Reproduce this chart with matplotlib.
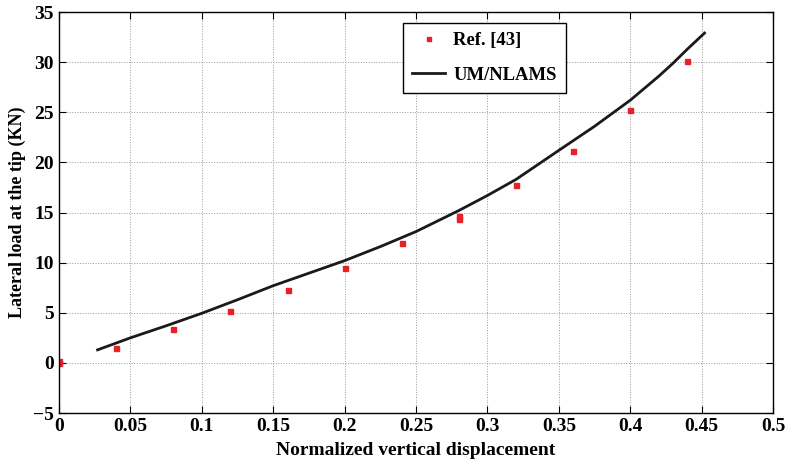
import numpy as np
import matplotlib
matplotlib.use("Agg")
import matplotlib.pyplot as plt

plt.rcParams['font.family'] = ['Liberation Serif', 'DejaVu Serif']
plt.rcParams['font.weight'] = 'bold'

# reference data points
ref_x = [0.0, 0.0, 0.04, 0.08, 0.12, 0.16, 0.20, 0.24, 0.28, 0.28, 0.32, 0.36, 0.40, 0.44]
ref_y = [0.0, 0.2, 1.5, 3.4, 5.2, 7.3, 9.5, 12.0, 14.4, 14.7, 17.7, 21.1, 25.2, 30.1]

# UM/NLAMS prediction
um_x = [0.027, 0.05, 0.075, 0.10, 0.125, 0.15, 0.175, 0.20, 0.225, 0.25, 0.28,
        0.30, 0.32, 0.35, 0.375, 0.40, 0.41, 0.42, 0.43, 0.44, 0.452]
um_y = [1.3, 2.5, 3.7, 4.95, 6.3, 7.7, 8.95, 10.2, 11.6, 13.1, 15.2,
        16.7, 18.3, 21.2, 23.6, 26.2, 27.4, 28.6, 29.9, 31.3, 32.9]

fig = plt.figure(figsize=(7.89, 4.66), dpi=100)
ax = fig.add_axes([0.0748, 0.1137, 0.905, 0.8605])

ax.plot(ref_x, ref_y, 's', color='#e8202a', ms=3.6, mec='#e8202a', label='Ref. [43]')
ax.plot(um_x, um_y, '-', color='#1a1a1a', lw=2.0, label='UM/NLAMS')

ax.set_xlim(0, 0.5)
ax.set_ylim(-5, 35)
ax.set_xticks(np.arange(0, 0.51, 0.05))
ax.set_xticklabels(['0', '0.05', '0.1', '0.15', '0.2', '0.25', '0.3', '0.35', '0.4', '0.45', '0.5'])
ax.set_yticks(np.arange(-5, 36, 5))
ax.set_yticklabels(['\u22125'] + [str(v) for v in range(0, 36, 5)])
ax.tick_params(direction='in', top=True, right=True, labelsize=14, length=5, width=0.8)
for lab in ax.get_xticklabels() + ax.get_yticklabels():
    lab.set_fontweight('bold')
ax.grid(True, linestyle=':', color='#999999', linewidth=0.7)
for s in ax.spines.values():
    s.set_linewidth(1.0)

ax.set_xlabel('Normalized vertical displacement', fontsize=14, fontweight='bold', labelpad=5)
ax.set_ylabel('Lateral load at the tip (KN)', fontsize=13, fontweight='bold', labelpad=5)

leg = ax.legend(loc='upper left', bbox_to_anchor=(0.482, 0.973), borderaxespad=0,
                prop={'weight': 'bold', 'size': 13.4}, fancybox=False, edgecolor='black',
                framealpha=1, handlelength=1.75, handletextpad=0.45, borderpad=0.5,
                labelspacing=0.95, numpoints=1, markerscale=0.8)
leg.get_frame().set_linewidth(1.0)

fig.savefig('out.png', dpi=100)
